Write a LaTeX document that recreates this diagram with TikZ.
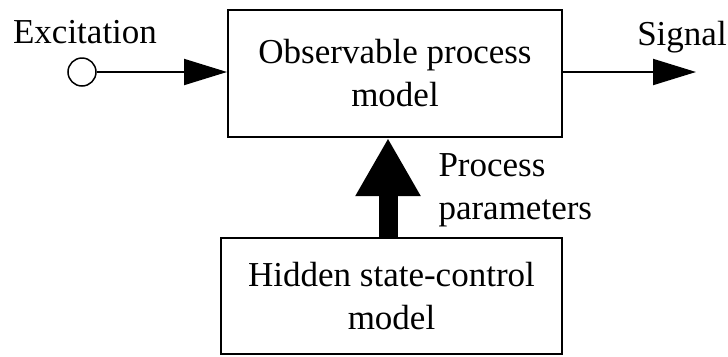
\documentclass[tikz,border=0pt]{standalone}
\usepackage{fontspec}
\setmainfont{Liberation Serif}
\usetikzlibrary{arrows.meta}
\begin{document}
\begin{tikzpicture}[x=1bp,y=-1bp,
  every node/.style={font=\fontsize{35bp}{43bp}\selectfont},
  block/.style={draw,line width=2bp,align=center,inner sep=0pt},
  flow/.style={line width=2bp,-{Triangle[length=43bp,width=26bp]}},
  bigflow/.style={line width=19bp,-{Triangle[length=58bp,width=61bp]}}]
\useasboundingbox (0,0) rectangle (728,356);

% blocks
\node[block,minimum width=334bp,minimum height=127bp] (obs) at (395,73.5)
  {Observable process\\model};
\node[block,minimum width=341bp,minimum height=116bp] (hid) at (391.5,296)
  {Hidden state-control\\model};

% input terminal and output end
\node[draw,circle,line width=1.5bp,minimum size=28bp,inner sep=0pt] (in) at (82,72) {};
\coordinate (out) at (696,72);
\coordinate (mid) at (388,0);

% labels (base anchor of a two-line node sits on its last line)
\node[anchor=base] (exc) at (85,43) {Excitation};
\node[anchor=base] (sig) at (682,45) {Signal};
\node[anchor=base west,align=left] (par) at (435,219) {Process\\parameters};

% connectors
\draw[flow] (in.east) -- (in.east -| obs.west);
\draw[flow] (obs.east |- out) -- (out);
\draw[bigflow] (hid.north -| mid) -- (obs.south -| mid);
\end{tikzpicture}
\end{document}
